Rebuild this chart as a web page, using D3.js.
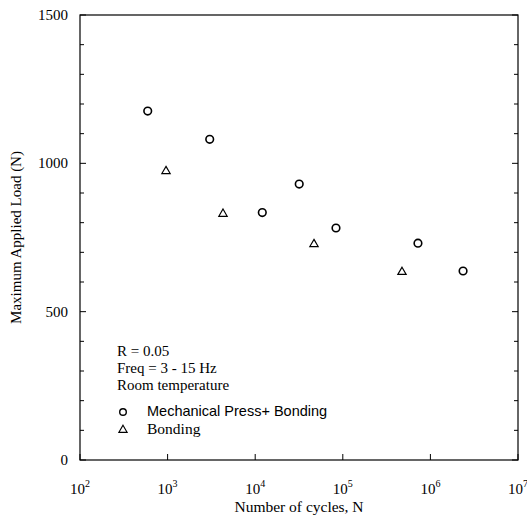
<!DOCTYPE html>
<html><head><meta charset="utf-8">
<script src="https://cdn.jsdelivr.net/npm/d3@7"></script>
<style>body{margin:0;background:#fff}svg{display:block}</style>
</head><body>
<svg id="c" width="527" height="516"></svg>
<script>
const xDecades = [2, 3, 4, 5, 6, 7];
const yTicks = [0, 500, 1000, 1500];
const yMinor = d3.range(0, 1501, 100);

const pressCycles = [593, 3025, 12050, 31800, 83600, 721000, 2360000];
const pressLoad   = [1176, 1081, 834, 930, 782, 731, 637];
const bondCycles  = [959, 4290, 46900, 474000];
const bondLoad    = [977, 833, 731, 637];

const notes = ["R = 0.05", "Freq = 3 - 15 Hz", "Room temperature"];
const legendLabels = ["Mechanical Press+ Bonding", "Bonding"];

const L = 80, R = 518, T = 15, B = 460;
const svg = d3.select("#c");
const x = d3.scaleLog().domain([1e2, 1e7]).range([L, R]);
const y = d3.scaleLinear().domain([0, 1500]).range([B, T]);
const serif = "'Liberation Serif', 'Times New Roman', serif";
const sans = "'Liberation Sans', Arial, sans-serif";

// frame
svg.append("rect").attr("x", L).attr("y", T).attr("width", R - L).attr("height", B - T)
  .attr("fill", "none").attr("stroke", "#000").attr("stroke-width", 1.2);

// left axis ticks (inward)
svg.append("g").selectAll("line").data(yMinor).join("line")
  .attr("x1", L).attr("x2", d => L + (d % 500 === 0 ? 6 : 4))
  .attr("y1", d => y(d)).attr("y2", d => y(d)).attr("stroke", "#000");
// right axis ticks
svg.append("g").selectAll("line").data(yMinor).join("line")
  .attr("x1", R).attr("x2", d => R - (d % 500 === 0 ? 6 : 4))
  .attr("y1", d => y(d)).attr("y2", d => y(d)).attr("stroke", "#000");
// bottom ticks
svg.append("g").selectAll("line").data(xDecades).join("line")
  .attr("x1", d => x(Math.pow(10, d))).attr("x2", d => x(Math.pow(10, d)))
  .attr("y1", B).attr("y2", B - 6).attr("stroke", "#000");

// y labels
svg.append("g").selectAll("text").data(yTicks).join("text")
  .attr("x", L - 12).attr("y", d => y(d) + 5).attr("text-anchor", "end")
  .attr("font-family", serif).attr("font-size", 15).text(d => d);

// x labels
const xl = svg.append("g").selectAll("text").data(xDecades).join("text")
  .attr("x", d => x(Math.pow(10, d))).attr("y", 494).attr("text-anchor", "middle")
  .attr("font-family", serif).attr("font-size", 15);
xl.append("tspan").text("10");
xl.append("tspan").attr("dy", -7).attr("font-size", 10).text(d => d);

// axis titles
svg.append("text").attr("x", (L + R) / 2).attr("y", 512).attr("text-anchor", "middle")
  .attr("font-family", serif).attr("font-size", 15.5).text("Number of cycles, N");
svg.append("text").attr("transform", `translate(21,${(T + B) / 2}) rotate(-90)`)
  .attr("text-anchor", "middle").attr("font-family", serif).attr("font-size", 15)
  .text("Maximum Applied Load (N)");

// markers
const tri = d3.symbol().type(d3.symbolTriangle).size(30);
svg.append("g").selectAll("circle").data(pressCycles).join("circle")
  .attr("cx", d => x(d)).attr("cy", (d, i) => y(pressLoad[i])).attr("r", 3.8)
  .attr("fill", "none").attr("stroke", "#000").attr("stroke-width", 1.6);
svg.append("g").selectAll("path").data(bondCycles).join("path")
  .attr("d", tri).attr("transform", (d, i) => `translate(${x(d)},${y(bondLoad[i]) + 1})`)
  .attr("fill", "none").attr("stroke", "#000").attr("stroke-width", 1.2);

// notes
svg.append("g").selectAll("text").data(notes).join("text")
  .attr("x", 117).attr("y", (d, i) => 356 + i * 17)
  .attr("font-family", serif).attr("font-size", 15).text(d => d);

// legend
svg.append("circle").attr("cx", 123).attr("cy", 412).attr("r", 3.3)
  .attr("fill", "none").attr("stroke", "#000").attr("stroke-width", 1.4);
svg.append("path").attr("d", tri).attr("transform", "translate(123,430)")
  .attr("fill", "none").attr("stroke", "#000").attr("stroke-width", 1.1);
svg.append("text").attr("x", 147).attr("y", 416).attr("font-family", sans)
  .attr("font-size", 14.5).text(legendLabels[0]);
svg.append("text").attr("x", 147).attr("y", 434).attr("font-family", serif)
  .attr("font-size", 15.5).text(legendLabels[1]);
</script>
</body></html>
